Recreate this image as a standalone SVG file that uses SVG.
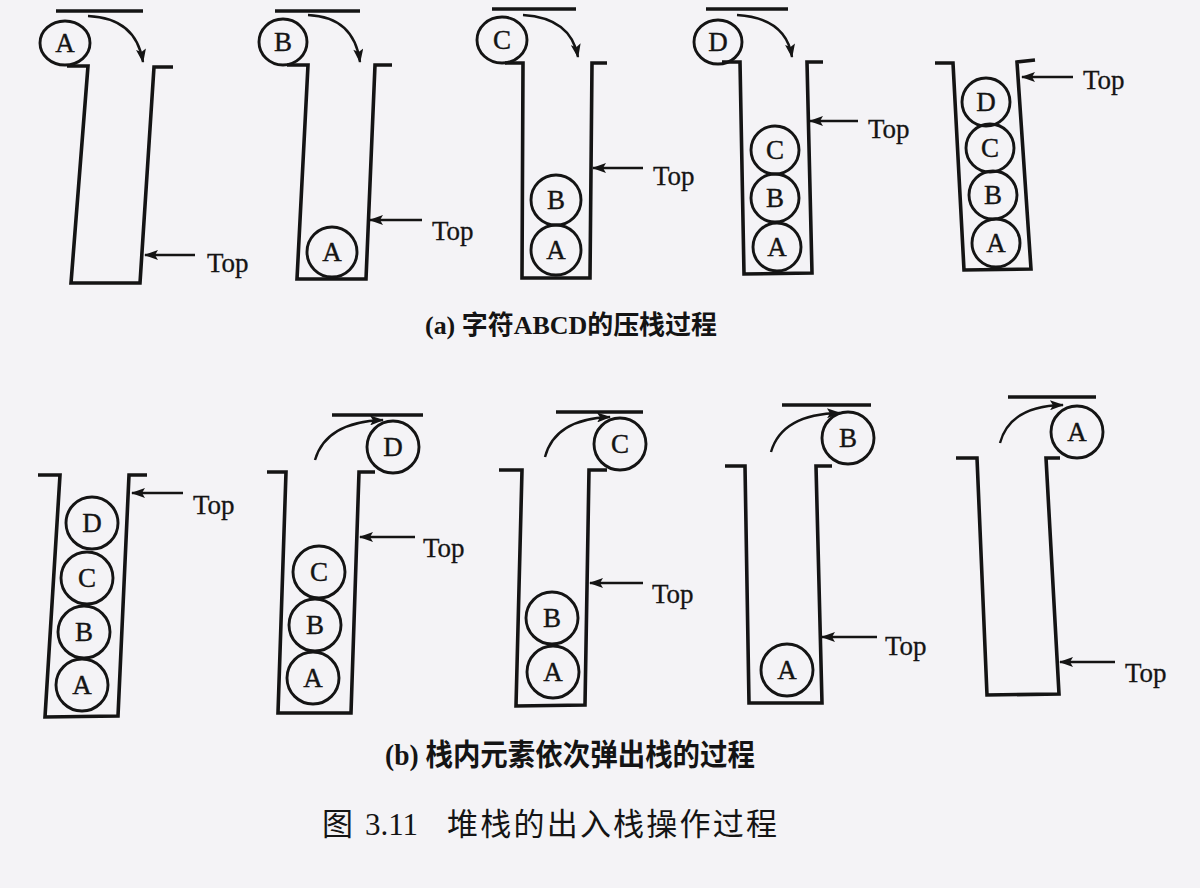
<svg xmlns="http://www.w3.org/2000/svg" width="1200" height="888" viewBox="0 0 1200 888">
<defs>
<marker id="ah" viewBox="0 0 14 10" refX="13" refY="5" markerWidth="15" markerHeight="10" markerUnits="userSpaceOnUse" orient="auto">
<path d="M0,0 L14,5 L0,10 L3,5 z" fill="#141414"/>
</marker>
<style>
.wall{fill:none;stroke:#141414;stroke-width:3.6;stroke-linejoin:miter}
.lid{stroke:#141414;stroke-width:3.6}
.ball{fill:none;stroke:#141414;stroke-width:2.9}
.lt{font-family:"Liberation Serif",serif;font-size:27px;fill:#141414;stroke:#141414;stroke-width:0.4;text-anchor:middle}
.top{font-family:"Liberation Serif",serif;font-size:27px;fill:#141414;stroke:#141414;stroke-width:0.3}
.arr{stroke:#141414;stroke-width:2.4;fill:none;marker-end:url(#ah)}
.cap{font-family:"Liberation Serif","Noto Sans CJK SC",sans-serif;font-weight:bold;fill:#141414}
.fig{font-family:"Noto Sans CJK SC",sans-serif;fill:#141414}
.num{font-family:"Liberation Serif",serif;fill:#141414}
</style>
</defs>
<rect x="0" y="0" width="1200" height="888" fill="#f4f3f6"/>

<g id="push1">
<line class="lid" x1="56" y1="11" x2="143" y2="11"/>
<polyline class="wall" points="67,66 88,66 71,283 140,283 154,67 173,67"/>
<ellipse class="ball" cx="65" cy="43" rx="25" ry="22"/><text class="lt" x="65" y="52">A</text>
<text class="top" x="207" y="272">Top</text>
</g>
<g id="push2">
<line class="lid" x1="275" y1="11" x2="360" y2="11"/>
<polyline class="wall" points="287,65 308,65 297,279 366,279 375,65 392,65"/>
<ellipse class="ball" cx="283" cy="42" rx="24" ry="23"/><text class="lt" x="283" y="51">B</text>
<circle class="ball" cx="332" cy="252" r="25"/><text class="lt" x="332" y="261">A</text>
<text class="top" x="432" y="240">Top</text>
</g>
<g id="push3">
<line class="lid" x1="492" y1="9" x2="576" y2="9"/>
<polyline class="wall" points="505,63 523,63 522,278 590,278 592,63 607,63"/>
<ellipse class="ball" cx="502" cy="40" rx="25" ry="23"/><text class="lt" x="502" y="49">C</text>
<circle class="ball" cx="556" cy="200" r="25"/><text class="lt" x="556" y="209">B</text>
<circle class="ball" cx="556" cy="250" r="25"/><text class="lt" x="556" y="259">A</text>
<text class="top" x="653" y="185">Top</text>
</g>
<g id="push4">
<line class="lid" x1="706" y1="9" x2="788" y2="9"/>
<polyline class="wall" points="722,62 740,62 744,274 812,273 807,62 823,62"/>
<ellipse class="ball" cx="718" cy="42" rx="24" ry="22"/><text class="lt" x="718" y="51">D</text>
<circle class="ball" cx="775" cy="150" r="24"/><text class="lt" x="775" y="159">C</text>
<circle class="ball" cx="775" cy="198" r="24"/><text class="lt" x="775" y="207">B</text>
<circle class="ball" cx="777" cy="247" r="24"/><text class="lt" x="777" y="256">A</text>
<text class="top" x="868" y="138">Top</text>
</g>
<g id="push5">
<polyline class="wall" points="935,63 953,63 964,270 1031,269 1017,62 1035,60"/>
<circle class="ball" cx="986" cy="102" r="24"/><text class="lt" x="986" y="111">D</text>
<circle class="ball" cx="990" cy="148" r="24"/><text class="lt" x="990" y="157">C</text>
<circle class="ball" cx="993" cy="195" r="24"/><text class="lt" x="993" y="204">B</text>
<circle class="ball" cx="996" cy="243" r="24"/><text class="lt" x="996" y="252">A</text>
<text class="top" x="1083" y="89">Top</text>
</g>

<g id="pop1">
<polyline class="wall" points="38,475 60,475 45,717 118,716 129,475 147,475"/>
<circle class="ball" cx="92" cy="523" r="26"/><text class="lt" x="92" y="532">D</text>
<circle class="ball" cx="87" cy="578" r="26"/><text class="lt" x="87" y="587">C</text>
<circle class="ball" cx="84" cy="632" r="26"/><text class="lt" x="84" y="641">B</text>
<circle class="ball" cx="82" cy="685" r="26"/><text class="lt" x="82" y="694">A</text>
<text class="top" x="193" y="514">Top</text>
</g>
<g id="pop2">
<line class="lid" x1="332" y1="415" x2="423" y2="415"/>
<polyline class="wall" points="267,472 286,472 278,713 351,713 359,472 375,472"/>
<circle class="ball" cx="393" cy="447" r="26"/><text class="lt" x="393" y="456">D</text>
<circle class="ball" cx="319" cy="572" r="26"/><text class="lt" x="319" y="581">C</text>
<circle class="ball" cx="315" cy="625" r="26"/><text class="lt" x="315" y="634">B</text>
<circle class="ball" cx="313" cy="678" r="26"/><text class="lt" x="313" y="687">A</text>
<text class="top" x="423" y="557">Top</text>
</g>
<g id="pop3">
<line class="lid" x1="556" y1="412" x2="643" y2="412"/>
<polyline class="wall" points="499,470 522,470 516,706 585,705 589,470 607,470"/>
<circle class="ball" cx="620" cy="444" r="26"/><text class="lt" x="620" y="453">C</text>
<circle class="ball" cx="552" cy="618" r="26"/><text class="lt" x="552" y="627">B</text>
<circle class="ball" cx="553" cy="672" r="26"/><text class="lt" x="553" y="681">A</text>
<text class="top" x="652" y="603">Top</text>
</g>
<g id="pop4">
<line class="lid" x1="782" y1="405" x2="871" y2="405"/>
<polyline class="wall" points="725,466 745,466 749,703 822,703 816,466 832,466"/>
<circle class="ball" cx="848" cy="438" r="26"/><text class="lt" x="848" y="447">B</text>
<circle class="ball" cx="787" cy="670" r="26"/><text class="lt" x="787" y="679">A</text>
<text class="top" x="885" y="655">Top</text>
</g>
<g id="pop5">
<line class="lid" x1="1008" y1="397" x2="1096" y2="397"/>
<polyline class="wall" points="956,458 977,458 987,695 1059,694 1046,458 1060,458"/>
<circle class="ball" cx="1077" cy="432" r="26"/><text class="lt" x="1077" y="441">A</text>
<text class="top" x="1125" y="682">Top</text>
</g>

<g id="connectors">
<path class="arr" d="M88,16 Q136,18 143,62"/>
<path class="arr" d="M308,15 Q354,17 360,62"/>
<path class="arr" d="M523,15 Q571,18 578,57"/>
<path class="arr" d="M737,15 Q786,18 792,57"/>
<path class="arr" d="M315,460 Q326,422 383,420"/>
<path class="arr" d="M545,457 Q555,419 610,417"/>
<path class="arr" d="M771,452 Q782,414 840,413"/>
<path class="arr" d="M1000,443 Q1010,406 1063,405"/>
<line class="arr" x1="195" y1="255" x2="145" y2="255"/>
<line class="arr" x1="422" y1="220" x2="370" y2="220"/>
<line class="arr" x1="643" y1="168" x2="593" y2="168"/>
<line class="arr" x1="858" y1="121" x2="810" y2="121"/>
<line class="arr" x1="1073" y1="77" x2="1022" y2="77"/>
<line class="arr" x1="183" y1="493" x2="132" y2="493"/>
<line class="arr" x1="415" y1="537" x2="360" y2="537"/>
<line class="arr" x1="643" y1="583" x2="590" y2="583"/>
<line class="arr" x1="877" y1="637" x2="822" y2="637"/>
<line class="arr" x1="1115" y1="662" x2="1060" y2="662"/>
</g>

<g id="captions">
<text class="cap" x="425" y="334" font-size="26" textLength="292" lengthAdjust="spacingAndGlyphs">(a) 字符ABCD的压栈过程</text>
<text class="cap" x="385" y="765" font-size="30" textLength="370" lengthAdjust="spacingAndGlyphs">(b) 栈内元素依次弹出栈的过程</text>
<text class="fig" x="322" y="835" font-size="31">图</text>
<text class="num" x="365" y="835" font-size="31">3.11</text>
<text class="fig" x="447" y="835" font-size="31" textLength="330" lengthAdjust="spacing">堆栈的出入栈操作过程</text>
</g>
</svg>
